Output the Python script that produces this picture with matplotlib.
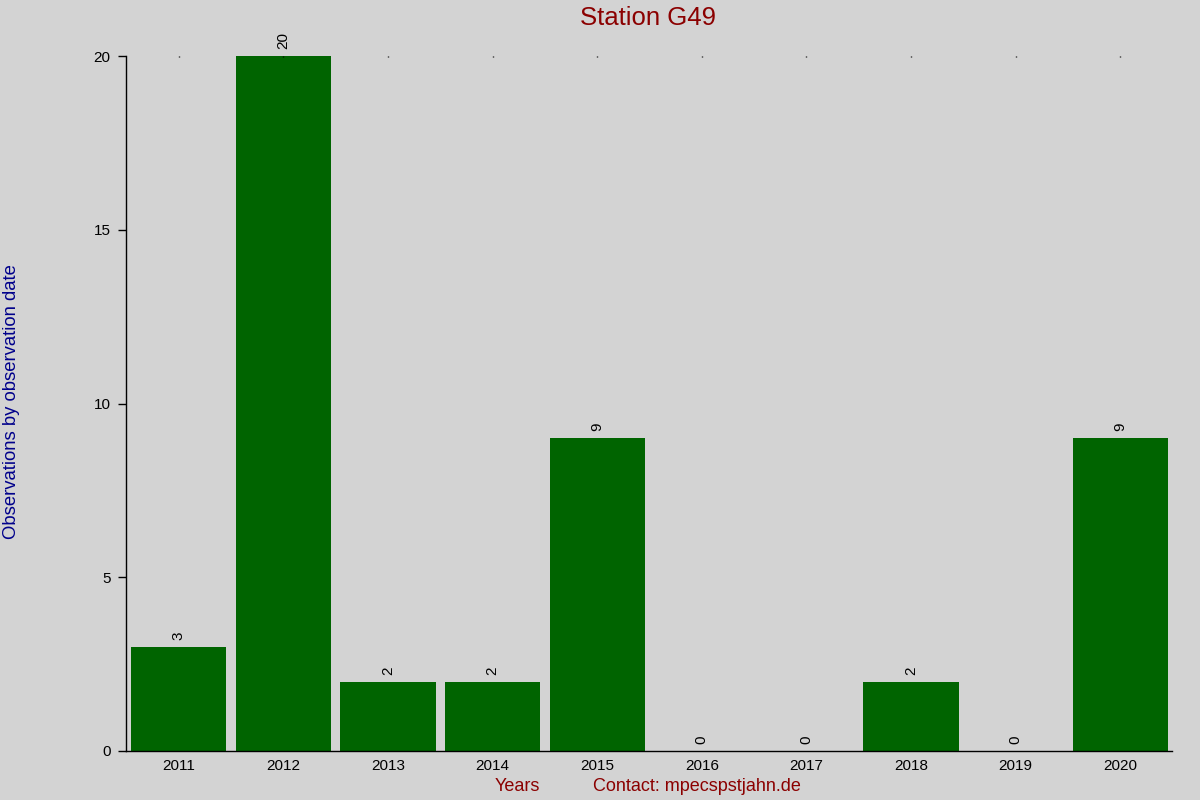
import matplotlib
matplotlib.use("Agg")
import matplotlib.pyplot as plt

plt.rcParams['font.family'] = ['Liberation Sans', 'DejaVu Sans']

years = ["2011", "2012", "2013", "2014", "2015", "2016", "2017", "2018", "2019", "2020"]
counts = [3, 20, 2, 2, 9, 0, 0, 2, 0, 9]

bg = "#d3d3d3"
fig = plt.figure(figsize=(12, 8), dpi=100, facecolor=bg)
ax = fig.add_axes([0.105, 0.06125, 0.8717, 0.86875], facecolor=bg)

x = range(len(years))
bars = ax.bar(x, counts, width=0.91, color="#006400")

# value labels above each bar, rotated
for b, v in zip(bars, counts):
    ax.annotate(str(v), (b.get_x() + b.get_width() / 2, v),
                xytext=(0, 5), textcoords="offset points",
                ha="center", va="bottom", rotation=90, fontsize=11,
                annotation_clip=False)

ax.set_xlim(-0.505, 9.495)
ax.set_ylim(0, 20)
ax.set_xticks(list(x))
ax.set_xticklabels(years)
ax.set_yticks([0, 5, 10, 15, 20])

ax.tick_params(axis="y", length=6, width=1, labelsize=11, pad=5)
ax.tick_params(axis="x", bottom=False, top=True, direction="in", length=1,
               width=1, labelsize=11, pad=6)

for side in ("top", "right"):
    ax.spines[side].set_visible(False)
ax.spines["left"].set_linewidth(1)
ax.spines["bottom"].set_linewidth(1)

fig.text(0.54, 0.9775, "Station G49", ha="center", va="center",
         color="#8b0000", fontsize=18.5)
fig.text(0.01, 0.4975, "Observations by observation date", rotation=90,
         ha="center", va="center", color="#00008b", fontsize=13.3)
fig.text(0.431, 0.017, "Years", ha="center", va="center",
         color="#8b0000", fontsize=13)
fig.text(0.581, 0.017, "Contact: mpecspstjahn.de", ha="center", va="center",
         color="#8b0000", fontsize=13)

fig.savefig("out.png", dpi=100, facecolor=bg)
